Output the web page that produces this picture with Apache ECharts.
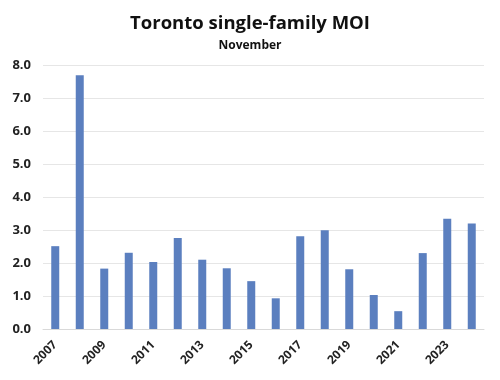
<!DOCTYPE html>
<html><head><meta charset="utf-8">
<script src="https://cdn.jsdelivr.net/npm/echarts@6/dist/echarts.min.js"></script>
<style>html,body{margin:0;padding:0;background:#fff}#c{width:500px;height:380px}</style>
</head><body><div id="c"></div>
<script>
const years = ['2007','2008','2009','2010','2011','2012','2013','2014','2015','2016','2017','2018','2019','2020','2021','2022','2023','2024'];
const moi = [2.51,7.69,1.83,2.31,2.03,2.76,2.10,1.84,1.45,0.93,2.81,2.99,1.81,1.03,0.54,2.30,3.34,3.20];
const chart = echarts.init(document.getElementById('c'));
chart.setOption({
  animation:false,
  title:{text:'Toronto single-family MOI',subtext:'November',left:'center',top:9,itemGap:7,
    textStyle:{fontFamily:'Open Sans',fontWeight:'bold',fontSize:18.5,color:'#111'},
    subtextStyle:{fontFamily:'Open Sans',fontWeight:'bold',fontSize:12,color:'#111'}},
  grid:{left:43,right:16,top:65,bottom:51},
  xAxis:{type:'category',data:years,
    axisLine:{lineStyle:{color:'#d9d9d9'}},axisTick:{show:false},
    axisLabel:{interval:1,rotate:45,fontFamily:'Open Sans',fontWeight:'bold',fontSize:12,color:'#222',margin:14}},
  yAxis:{type:'value',min:0,max:8,interval:1,
    axisLabel:{formatter:v=>v.toFixed(1),fontFamily:'Open Sans',fontWeight:'bold',fontSize:13,color:'#222',margin:12},
    splitLine:{lineStyle:{color:'#e6e6e6'}},axisLine:{show:false},axisTick:{show:false}},
  series:[{type:'bar',data:moi,barWidth:8,itemStyle:{color:'#5b7fbf'}}]
});
</script></body></html>
